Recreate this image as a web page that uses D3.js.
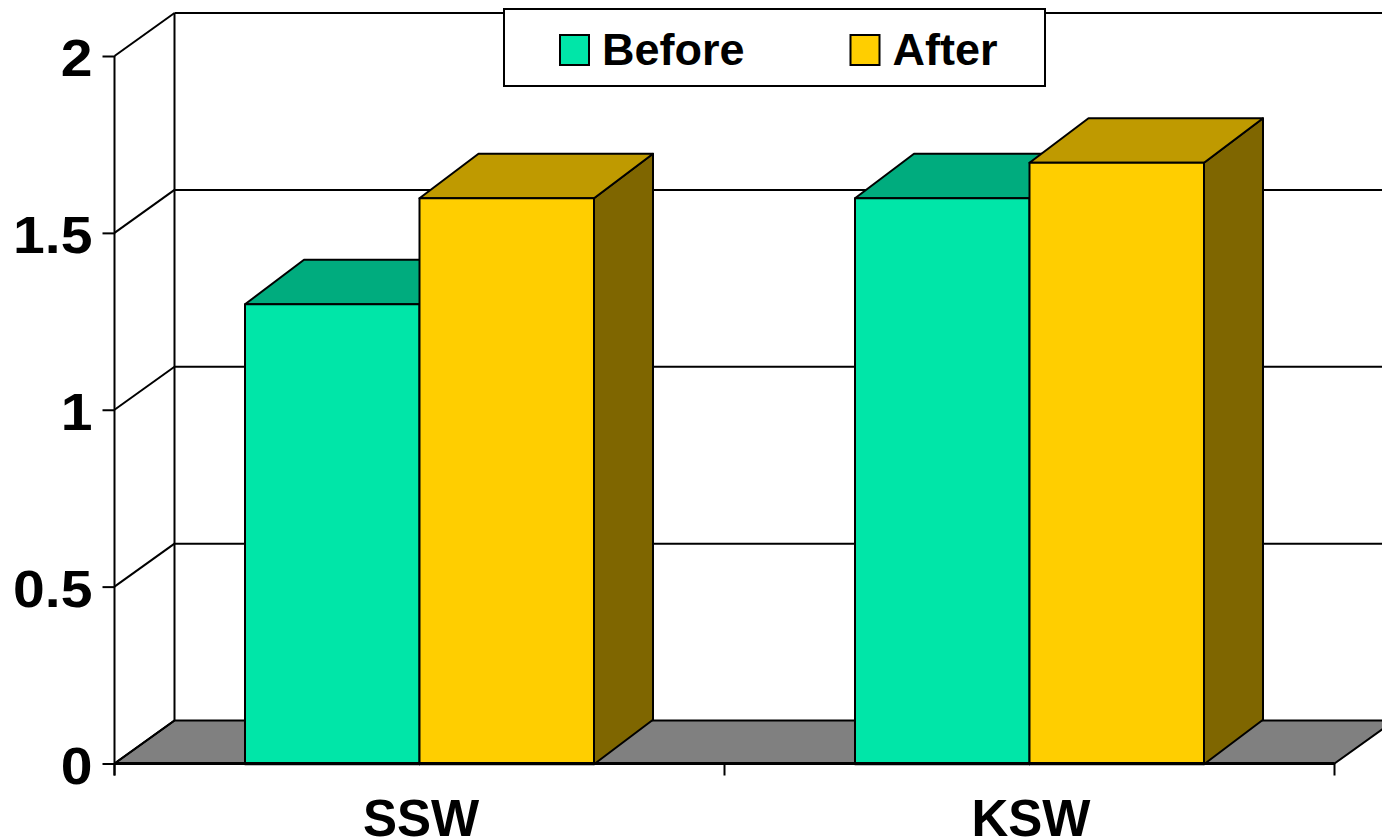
<!DOCTYPE html>
<html>
<head>
<meta charset="utf-8">
<script src="https://cdn.jsdelivr.net/npm/d3@7"></script>
<style>
  html, body { margin: 0; padding: 0; background: #fff; overflow: hidden; }
  text { font-family: "Liberation Sans", Arial, sans-serif; font-weight: bold; fill: #000; }
</style>
</head>
<body>
<svg id="chart"></svg>
<script>
const categories = ['SSW', 'KSW'];
const seriesNames = ['Before', 'After'];
const beforeValues = [1.3, 1.6];
const afterValues = [1.6, 1.7];
const yTicks = [0, 0.5, 1, 1.5, 2];
const frontColors = ['#00E6A8', '#FFCE00'];
const topColors = ['#00AC7E', '#BF9A00'];
const sideColors = ['#007353', '#7F6600'];

const width = 1382, height = 840;
const margin = {top: 56, right: 47.5, bottom: 76.5, left: 114.5};
const depth = {x: 60, y: -43};
const barDepth = {x: 59, y: -44.5};
const innerW = width - margin.left - margin.right;
const innerH = height - margin.top - margin.bottom;

const svg = d3.select('#chart').attr('width', width).attr('height', height)
    .style('display', 'block');
const chart = svg.append('g').attr('transform', `translate(${margin.left},${margin.top})`);

const x0 = d3.scaleBand().domain(categories).range([0, innerW]);
const x1 = d3.scaleBand().domain(seriesNames)
    .range([130.5, x0.bandwidth() - 130.5]);
const y = d3.scaleLinear().domain([0, 2]).range([innerH, 0]);

const line = d3.line();

// back wall and gridlines
chart.append('path')
    .attr('d', line([[depth.x, y(2) + depth.y], [depth.x, y(0) + depth.y]]))
    .attr('stroke', '#000').attr('stroke-width', 2).attr('fill', 'none');

// floor
chart.append('path')
    .attr('d', line([[0, y(0)], [depth.x, y(0) + depth.y],
      [innerW + depth.x, y(0) + depth.y], [innerW, y(0)]]) + 'Z')
    .attr('fill', '#808080').attr('stroke', '#000').attr('stroke-width', 2);

chart.selectAll('.grid').data(yTicks.slice(1)).join('path')
    .attr('class', 'grid')
    .attr('d', d => line([[depth.x, y(d) + depth.y], [innerW + depth.x, y(d) + depth.y]]))
    .attr('stroke', '#000').attr('stroke-width', 2).attr('fill', 'none');

// left side wall diagonals
chart.selectAll('.diag').data(yTicks).join('path')
    .attr('class', 'diag')
    .attr('d', d => line([[0, y(d)], [depth.x, y(d) + depth.y]]))
    .attr('stroke', '#000').attr('stroke-width', 2).attr('fill', 'none');

// axes
const yLabelScale = 1.12;
const yAxis = d3.axisLeft(y).tickValues(yTicks).tickFormat(d3.format('~g'))
    .tickSize(12).tickPadding(10);
const yAxisG = chart.append('g').call(yAxis);
yAxisG.select('.domain').attr('d', line([[0, y(2)], [0, y(0) + 12]]));
yAxisG.selectAll('path, line').attr('stroke', '#000').attr('stroke-width', 2);
yAxisG.selectAll('text')
    .style('font-size', '51px')
    .attr('dy', null)
    .attr('y', 19.5)
    .attr('text-anchor', 'end')
    .attr('transform', `translate(-21,0) scale(${yLabelScale},1) translate(21,0)`);

// 3d bars, series order so After overlaps Before
const barData = categories.flatMap((c, i) => [
  {cat: c, s: 0, value: beforeValues[i]},
  {cat: c, s: 1, value: afterValues[i]}
]);

const bars = chart.selectAll('.bar').data(barData).join('g')
    .attr('class', 'bar')
    .attr('transform', 'translate(0,0.7)');
const barX = d => x0(d.cat) + x1(seriesNames[d.s]);
const barW = x1.bandwidth();

bars.append('path') // side
    .attr('d', d => line([[barX(d) + barW, y(d.value)],
      [barX(d) + barW + barDepth.x, y(d.value) + barDepth.y],
      [barX(d) + barW + barDepth.x, y(0) + barDepth.y],
      [barX(d) + barW, y(0)]]) + 'Z')
    .attr('fill', d => sideColors[d.s]);
bars.append('path') // top
    .attr('d', d => line([[barX(d), y(d.value)],
      [barX(d) + barDepth.x, y(d.value) + barDepth.y],
      [barX(d) + barW + barDepth.x, y(d.value) + barDepth.y],
      [barX(d) + barW, y(d.value)]]) + 'Z')
    .attr('fill', d => topColors[d.s]);
bars.append('rect') // front
    .attr('x', barX)
    .attr('y', d => y(d.value))
    .attr('width', barW)
    .attr('height', d => y(0) - y(d.value))
    .attr('fill', d => frontColors[d.s]);
bars.selectAll('path, rect')
    .attr('stroke', '#000').attr('stroke-width', 2).attr('stroke-linejoin', 'round');

// x axis goes on top of the bars, its line runs over their feet
const xAxis = d3.axisBottom(x0).tickSize(0).tickPadding(0);
const xAxisG = chart.append('g').attr('transform', `translate(0,${innerH})`).call(xAxis);
xAxisG.select('.domain').attr('d', line([[0, 0], [innerW, 0]]))
    .attr('stroke', '#000').attr('stroke-width', 3);
xAxisG.selectAll('text')
    .style('font-size', '51px')
    .attr('dy', null)
    .attr('x', 1.5)
    .attr('y', 72.5);

// category boundary ticks
xAxisG.selectAll('.cat-tick').data([0, x0.bandwidth(), innerW]).join('path')
    .attr('class', 'cat-tick')
    .attr('d', d => line([[d, 0], [d, 12]]))
    .attr('stroke', '#000').attr('stroke-width', 2);

// legend
const legend = svg.append('g');
legend.append('rect')
    .attr('x', 504).attr('y', 9).attr('width', 541).attr('height', 77)
    .attr('fill', '#fff').attr('stroke', '#000').attr('stroke-width', 2);
const legendX = d3.scalePoint().domain(seriesNames).range([560, 850.5]);
const items = legend.selectAll('.item').data(seriesNames).join('g')
    .attr('class', 'item')
    .attr('transform', d => `translate(${legendX(d)},35)`);
items.append('rect')
    .attr('width', 29).attr('height', 30)
    .attr('fill', (d, i) => frontColors[i])
    .attr('stroke', '#000').attr('stroke-width', 2);
items.append('text')
    .attr('x', 42).attr('y', 30)
    .style('font-size', '45px')
    .text(d => d);
</script>
</body>
</html>
